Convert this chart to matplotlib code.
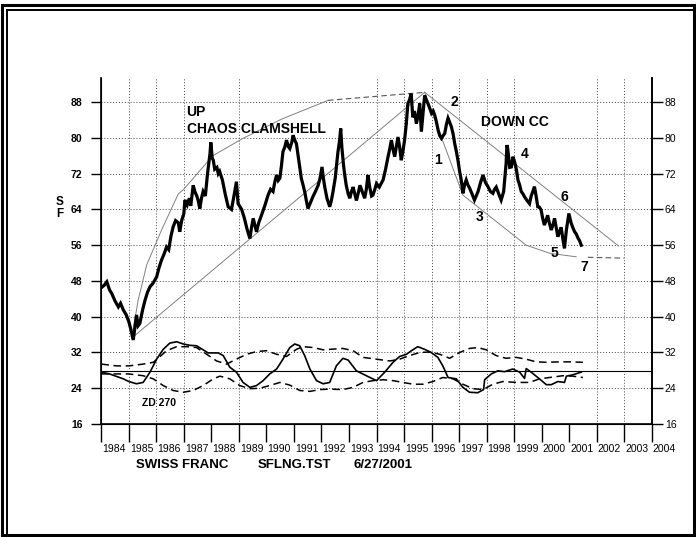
import matplotlib
matplotlib.use("Agg")
import matplotlib.pyplot as plt
from matplotlib.patches import Rectangle
from matplotlib.lines import Line2D

plt.rcParams['font.family'] = ['Liberation Sans', 'DejaVu Sans']

# price (SF futures)
price_t = [1984.00, 1984.10, 1984.20, 1984.30, 1984.38, 1984.50, 1984.62, 1984.70, 1984.80, 1984.90,
           1985.00, 1985.08, 1985.16, 1985.22, 1985.28, 1985.34, 1985.40, 1985.50, 1985.59, 1985.68,
           1985.77, 1985.88, 1986.01, 1986.10, 1986.19, 1986.28, 1986.37, 1986.45, 1986.53, 1986.61,
           1986.70, 1986.80, 1986.85, 1986.92, 1987.00, 1987.04, 1987.12, 1987.20, 1987.25, 1987.34,
           1987.40, 1987.47, 1987.52, 1987.58, 1987.64, 1987.70, 1987.78, 1987.86, 1987.95, 1987.98,
           1988.03, 1988.07, 1988.12, 1988.20, 1988.25, 1988.30, 1988.40, 1988.50, 1988.61, 1988.73,
           1988.82, 1988.91, 1988.97, 1989.05, 1989.10, 1989.20, 1989.30, 1989.40, 1989.46, 1989.52,
           1989.58, 1989.64, 1989.72, 1989.82, 1989.95, 1990.06, 1990.15, 1990.24, 1990.30, 1990.37,
           1990.43, 1990.49, 1990.55, 1990.60, 1990.67, 1990.73, 1990.80, 1990.85, 1990.92, 1990.97,
           1991.03, 1991.09, 1991.15, 1991.21, 1991.27, 1991.33, 1991.39, 1991.45, 1991.51, 1991.60,
           1991.70, 1991.78, 1991.88, 1991.95, 1992.02, 1992.07, 1992.12, 1992.20, 1992.30, 1992.36,
           1992.42, 1992.50, 1992.60, 1992.66, 1992.70, 1992.74, 1992.80, 1992.85, 1992.90, 1992.97,
           1993.03, 1993.09, 1993.15, 1993.21, 1993.27, 1993.33, 1993.40, 1993.48, 1993.57, 1993.63,
           1993.69, 1993.75, 1993.82, 1993.87, 1993.94, 1994.00, 1994.10, 1994.24, 1994.33, 1994.42,
           1994.48, 1994.54, 1994.60, 1994.66, 1994.72, 1994.78, 1994.84, 1994.90, 1994.96, 1995.02,
           1995.08, 1995.14, 1995.20, 1995.26, 1995.32, 1995.38, 1995.45, 1995.51, 1995.57, 1995.63,
           1995.69, 1995.75, 1995.81, 1995.87, 1995.94, 1996.00, 1996.06, 1996.12, 1996.18, 1996.24,
           1996.30, 1996.36, 1996.42, 1996.48, 1996.54, 1996.60, 1996.66, 1996.72, 1996.78, 1996.84,
           1996.90, 1996.96, 1997.02, 1997.08, 1997.14, 1997.20, 1997.26, 1997.32, 1997.38, 1997.47,
           1997.56, 1997.62, 1997.69, 1997.78, 1997.87, 1997.96, 1998.05, 1998.14, 1998.23, 1998.29,
           1998.35, 1998.44, 1998.53, 1998.62, 1998.71, 1998.74, 1998.77, 1998.84, 1998.90, 1998.96,
           1999.02, 1999.08, 1999.14, 1999.20, 1999.26, 1999.32, 1999.38, 1999.47, 1999.56, 1999.62,
           1999.68, 1999.74, 1999.80, 1999.86, 1999.92, 1999.98, 2000.04, 2000.10, 2000.16, 2000.22,
           2000.28, 2000.35, 2000.41, 2000.47, 2000.53, 2000.59, 2000.65, 2000.71, 2000.77, 2000.83,
           2000.90, 2000.95, 2000.99, 2001.07, 2001.13, 2001.20, 2001.26, 2001.32, 2001.38, 2001.44]
price_v = [46.5, 47.0, 47.8, 46.0, 45.2, 43.5, 42.2, 43.0, 41.5, 40.5,
           38.9, 37.0, 34.8, 37.5, 40.4, 38.0, 38.5, 41.5, 43.7, 45.5,
           46.7, 47.5, 48.9, 51.0, 52.7, 54.0, 55.6, 55.0, 58.0, 60.1,
           61.5, 61.0, 59.0, 61.5, 63.1, 66.1, 65.0, 66.5, 64.8, 69.4,
           68.0, 67.0, 66.0, 64.2, 66.5, 68.0, 67.0, 72.0, 76.5, 79.0,
           75.5, 75.0, 73.0, 73.4, 72.0, 72.5, 70.6, 67.5, 64.6, 64.0,
           67.0, 70.2, 65.3, 64.5, 64.0, 62.0, 59.5, 57.5, 60.0, 62.0,
           60.5, 59.0, 61.0, 62.7, 65.0, 67.2, 68.5, 68.0, 70.0, 71.7,
           70.5, 71.0, 74.0, 76.9, 78.0, 79.5, 78.0, 77.6, 79.0, 80.6,
           79.5, 78.7, 76.1, 73.5, 70.9, 69.5, 68.0, 66.0, 64.2, 65.5,
           67.0, 68.0, 69.4, 71.0, 73.5, 71.0, 69.0, 66.5, 64.6, 66.0,
           68.0, 71.0, 76.9, 79.5, 82.1, 78.0, 74.0, 71.5, 69.4, 67.5,
           66.5, 68.0, 69.0, 67.5, 66.0, 67.5, 69.4, 68.0, 66.5, 68.5,
           71.7, 69.1, 67.0, 67.2, 68.5, 69.8, 69.0, 70.6, 73.0, 75.8,
           77.5, 79.5, 77.5, 75.8, 78.0, 80.2, 78.0, 75.0, 77.0, 79.5,
           83.0, 87.7, 88.5, 89.9, 84.6, 86.0, 83.2, 85.0, 87.7, 81.4,
           85.5, 89.5, 88.5, 87.7, 86.5, 85.5, 86.0, 85.0, 83.5, 81.7,
           80.5, 79.9, 80.5, 81.0, 83.0, 84.4, 83.5, 82.5, 81.0, 78.8,
           77.0, 75.0, 72.5, 70.6, 67.6, 69.5, 70.6, 69.5, 68.8, 67.5,
           66.1, 67.0, 68.0, 70.0, 71.7, 70.0, 69.1, 68.0, 67.6, 68.5,
           69.0, 67.5, 66.1, 68.0, 74.3, 78.4, 77.5, 73.4, 73.5, 75.8,
           74.6, 73.0, 70.6, 69.5, 68.0, 67.5, 66.8, 66.0, 65.3, 67.0,
           68.0, 69.1, 67.0, 64.6, 64.5, 63.9, 62.0, 60.5, 61.5, 62.7,
           61.0, 59.4, 60.5, 62.0, 60.0, 57.9, 59.0, 60.0, 57.5, 55.3,
           59.4, 61.5, 63.1, 61.0, 60.0, 59.0, 58.5, 57.6, 57.0, 56.0]

# oscillator (lower panel)
osc_t = [1984.01, 1984.3, 1984.8, 1985.0, 1985.28, 1985.52, 1985.77, 1986.01, 1986.25, 1986.49,
         1986.74, 1986.98, 1987.22, 1987.46, 1987.7, 1987.88, 1988.25, 1988.43, 1988.67, 1988.91,
         1989.15, 1989.4, 1989.64, 1989.88, 1990.12, 1990.37, 1990.6, 1990.85, 1991.03, 1991.21,
         1991.39, 1991.58, 1991.82, 1992.06, 1992.3, 1992.54, 1992.78, 1992.97, 1993.27, 1993.63,
         1994.0, 1994.3, 1994.6, 1994.84, 1995.09, 1995.27, 1995.5, 1995.75, 1995.99, 1996.23,
         1996.41, 1996.6, 1996.9, 1997.14, 1997.38, 1997.68, 1997.89, 1997.93, 1998.17, 1998.41,
         1998.65, 1998.95, 1999.2, 1999.38, 1999.44, 1999.62, 1999.92, 2000.17, 2000.35, 2000.59,
         2000.83, 2000.9, 2001.13, 2001.44]
osc_v = [27.6, 27.2, 26.1, 25.5, 25.0, 25.3, 27.6, 30.5, 32.7, 34.1,
         34.4, 33.9, 33.6, 33.5, 32.6, 31.9, 31.9, 31.3, 28.7, 27.6,
         25.3, 24.2, 24.6, 25.7, 27.2, 28.3, 30.5, 33.1, 33.9, 33.5,
         31.3, 28.3, 25.7, 25.0, 25.3, 29.0, 30.7, 30.3, 27.9, 26.8,
         25.7, 27.6, 29.8, 31.1, 31.6, 32.4, 33.3, 32.7, 32.0, 30.9,
         29.0, 26.4, 26.1, 24.2, 23.1, 23.0, 23.7, 25.9, 27.2, 27.9,
         27.7, 28.3, 27.6, 26.2, 28.4, 27.6, 26.1, 24.8, 24.8, 25.5,
         25.3, 26.7, 27.0, 27.6]

upper_t = [1984.0, 1984.56, 1985.0, 1985.52, 1985.89, 1986.1, 1986.37, 1986.74, 1987.1, 1987.46,
           1987.83, 1988.19, 1988.55, 1988.91, 1989.28, 1989.64, 1990.0, 1990.37, 1990.73, 1991.09,
           1991.33, 1991.7, 1992.06, 1992.3, 1992.78, 1993.15, 1993.51, 1994.0, 1994.48, 1994.84,
           1995.2, 1995.57, 1995.93, 1996.3, 1996.66, 1997.02, 1997.38, 1997.68, 1997.99, 1998.35,
           1998.71, 1999.08, 1999.44, 1999.8, 2000.17, 2000.65, 2001.01, 2001.5]
upper_v = [29.4, 29.0, 29.0, 29.4, 29.8, 30.9, 32.4, 33.3, 33.3, 33.1,
           31.6, 30.1, 29.4, 30.5, 31.6, 32.2, 32.4, 31.6, 31.1, 32.7,
           33.3, 33.1, 32.6, 32.7, 32.9, 32.4, 30.9, 30.5, 30.1, 30.5,
           31.3, 32.0, 32.1, 31.6, 30.7, 32.0, 32.9, 33.1, 32.6, 31.3,
           30.7, 30.9, 30.5, 29.9, 29.8, 29.9, 29.9, 29.8]

lower_t = [1984.0, 1984.56, 1985.0, 1985.52, 1985.89, 1986.25, 1986.61, 1986.98, 1987.34, 1987.7,
           1988.07, 1988.31, 1988.67, 1989.03, 1989.4, 1989.76, 1990.12, 1990.49, 1990.85, 1991.21,
           1991.58, 1991.94, 1992.3, 1992.78, 1993.15, 1993.51, 1993.88, 1994.24, 1994.6, 1994.96,
           1995.33, 1995.69, 1996.05, 1996.41, 1996.78, 1997.14, 1997.5, 1997.87, 1998.23, 1998.59,
           1999.08, 1999.56, 1999.92, 2000.29, 2000.77, 2001.13, 2001.5]
lower_v = [27.2, 27.2, 27.2, 26.8, 26.1, 24.6, 23.5, 23.1, 23.5, 24.6,
           26.1, 26.7, 26.1, 24.6, 23.9, 24.0, 24.6, 25.3, 24.7, 23.5,
           23.3, 23.7, 23.8, 23.7, 24.2, 25.3, 25.7, 25.9, 25.7, 25.3,
           24.9, 24.9, 25.5, 26.4, 26.1, 24.9, 23.9, 23.7, 24.9, 25.5,
           25.3, 25.3, 26.1, 26.4, 26.8, 26.7, 26.4]
zero_line = 27.8

# clamshell envelope lines
up_upper_t = [1985.1, 1985.34, 1985.65, 1986.19, 1986.8, 1986.98, 1988.05, 1989.12, 1990.55, 1992.24]
up_upper_v = [35.2, 43.7, 51.6, 59.4, 67.5, 68.4, 76.0, 79.8, 84.2, 88.4]
up_top_t = [1992.24, 1995.75]
up_top_v = [88.4, 90.2]
up_lower_t = [1985.16, 1995.75]
up_lower_v = [35.5, 90.2]
down_upper_t = [1995.75, 2002.8]
down_upper_v = [90.2, 55.8]
down_lower_t = [1995.75, 1997.14, 1999.44, 2000.29, 2001.26]
down_lower_v = [90.2, 67.2, 56.0, 54.2, 53.4]
down_tail_t = [2001.68, 2003.0]
down_tail_v = [53.3, 53.1]

wave_labels = ['1', '2', '3', '4', '5', '6', '7']
wave_t = [1996.23, 1996.84, 1997.75, 1999.38, 2000.47, 2000.83, 2001.55]
wave_v = [75.0, 88.1, 62.4, 76.4, 54.2, 66.8, 51.2]

years = list(range(1984, 2005))
grid_years = [1985, 1986, 1987, 1989, 1994, 1995, 1996, 1997, 1998, 1999, 2002, 2003]
y_ticks = list(range(16, 89, 8))
y_top = 93.4

W, H = 696, 537
fig = plt.figure(figsize=(W / 100, H / 100), dpi=100, facecolor='white')
ax = fig.add_axes([101.3 / W, 1 - 424 / H, 550.4 / W, 346 / H])
ax.set_xlim(1984, 2004)
ax.set_ylim(16, y_top)

# grid
ax.hlines(y_ticks[1:], 1984, 2004, colors='#444444', linestyles=(0, (1, 2)), lw=0.7, zorder=1)
ax.vlines(grid_years, 16, y_top, colors='#444444', linestyles=(0, (1, 2)), lw=0.7, zorder=1)

# envelopes
env = dict(color='#808080', lw=0.7, zorder=2)
ax.plot(up_upper_t, up_upper_v, **env)
ax.plot(up_lower_t, up_lower_v, **env)
ax.plot(down_upper_t, down_upper_v, **env)
ax.plot(down_lower_t, down_lower_v, **env)
ax.plot(up_top_t, up_top_v, color='#555555', lw=0.8, ls=(0, (5, 3)), zorder=2)
ax.plot(down_tail_t, down_tail_v, color='#555555', lw=0.8, ls=(0, (5, 3)), zorder=2)

# price
ax.plot(price_t, price_v, color='black', lw=2.3, solid_joinstyle='miter', zorder=3)

# oscillator
ax.axhline(zero_line, color='black', lw=0.8, zorder=2)
ax.plot(osc_t, osc_v, color='black', lw=1.2, zorder=3)
ax.plot(upper_t, upper_v, color='black', lw=1.1, ls=(0, (5, 3)), zorder=3)
ax.plot(lower_t, lower_v, color='black', lw=1.1, ls=(0, (5, 3)), zorder=3)

# annotations
bold = dict(fontweight='bold', fontsize=10, va='center')
ax.text(1987.1, 85.8, 'UP', **bold)
ax.text(1987.1, 82.1, 'CHAOS CLAMSHELL', **bold)
ax.text(1997.8, 83.6, 'DOWN CC', **bold)
for lab, t, v in zip(wave_labels, wave_t, wave_v):
    ax.text(t, v, lab, ha='center', **bold)
ax.text(1985.47, 20.6, 'ZD 270', fontweight='bold', fontsize=7.5, va='center')

# axes styling
ax.spines['top'].set_visible(False)
for s in ['left', 'right', 'bottom']:
    ax.spines[s].set_linewidth(1.2)
ax.set_yticks(y_ticks)
ax.set_yticklabels([str(v) for v in y_ticks], fontweight='bold')
ax.tick_params(axis='y', direction='out', length=7.5, width=1, pad=6, labelsize=7.5)
ax.set_xticks(years)
ax.set_xticklabels([])
ax.tick_params(axis='x', direction='out', length=13, width=1)
for yr in years:
    ax.text(yr + 0.04, -0.072, str(yr), transform=ax.get_xaxis_transform(),
            ha='left', va='center', fontsize=7.5)

ax2 = ax.twinx()
ax2.set_ylim(16, y_top)
ax2.set_yticks(y_ticks)
ax2.tick_params(axis='y', direction='out', length=8, width=1, pad=1.5, labelsize=7.5)
ax2.spines['top'].set_visible(False)
ax2.spines['right'].set_linewidth(1.2)

fig.text(60 / W, 1 - 208 / H, 'S\nF', ha='center', va='center', fontsize=8.5,
         fontweight='bold', linespacing=0.95)

for x0, txt in [(135.6, 'SWISS FRANC'), (258, 'SFLNG.TST'), (353, '6/27/2001')]:
    fig.text(x0 / W, 1 - 465 / H, txt, ha='left', va='center', fontsize=9.5, fontweight='bold')

# double frame
fig.add_artist(Rectangle((2 / W, 2 / H), 692 / W, 530 / H, transform=fig.transFigure,
                         fill=False, ec='black', lw=2.2))
fig.add_artist(Line2D([7 / W, 7 / W], [2 / H, 1 - 10 / H], transform=fig.transFigure,
                      color='black', lw=1.4))
fig.add_artist(Line2D([7 / W, 694 / W], [1 - 10 / H, 1 - 10 / H], transform=fig.transFigure,
                      color='black', lw=1.4))

fig.savefig('out.png', dpi=100, facecolor='white')
